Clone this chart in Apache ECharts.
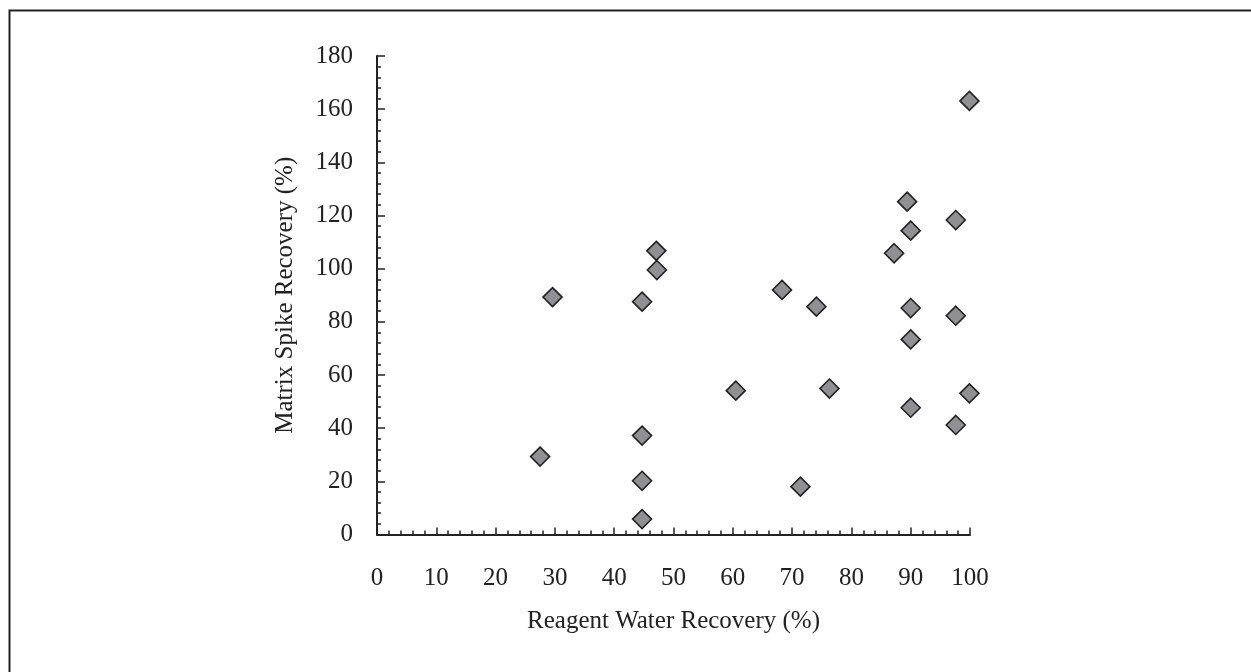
<!DOCTYPE html>
<html>
<head>
<meta charset="utf-8">
<script src="https://cdn.jsdelivr.net/npm/echarts@6/dist/echarts.min.js"></script>
<style>
html,body{margin:0;padding:0;background:#fff;}
#chart{width:1251px;height:672px;}
</style>
</head>
<body>
<div id="chart"></div>
<script>
var reagentWater = [27.5, 29.6, 44.7, 44.7, 44.7, 44.7, 47.1, 47.2, 60.5, 68.3, 71.4, 74.1, 76.3, 87.2, 89.4, 90.0, 90.0, 90.0, 90.0, 97.6, 97.6, 97.6, 99.9, 99.9];
var matrixSpike = [29.3, 89.3, 87.6, 37.2, 20.2, 5.8, 106.7, 99.5, 54.1, 92.0, 18.0, 85.7, 54.9, 105.8, 125.2, 114.3, 85.2, 73.4, 47.7, 118.3, 82.3, 41.2, 163.1, 53.1];
var xTitle = 'Reagent Water Recovery (%)';
var yTitle = 'Matrix Spike Recovery (%)';

var points = reagentWater.map(function (x, i) { return [x, matrixSpike[i]]; });
var font = 'Liberation Serif';
var chart = echarts.init(document.getElementById('chart'));
chart.setOption({
  animation: false,
  backgroundColor: '#fff',
  graphic: [{
    type: 'rect', left: 7, top: 8,
    shape: { width: 1300, height: 700 },
    style: { fill: 'none', stroke: '#222', lineWidth: 2 },
    silent: true
  }],
  grid: { left: 377, right: 281, top: 56, bottom: 137.5, containLabel: false },
  xAxis: {
    type: 'value', min: 0, max: 100, interval: 10,
    name: xTitle, nameLocation: 'middle', nameGap: 74,
    nameTextStyle: { fontFamily: font, fontSize: 25, color: '#222' },
    axisLine: { show: true, onZero: false, lineStyle: { color: '#222', width: 2 } },
    axisTick: { show: true, inside: true, length: 7, lineStyle: { color: '#222', width: 1.5 } },
    minorTick: { show: true, splitNumber: 5, length: 4, lineStyle: { color: '#222', width: 1.5 } },
    splitLine: { show: false },
    axisLabel: { fontFamily: font, fontSize: 25, color: '#222', margin: 31 }
  },
  yAxis: {
    type: 'value', min: 0, max: 180, interval: 20,
    name: yTitle, nameLocation: 'middle', nameGap: 79, nameRotate: 90,
    nameTextStyle: { fontFamily: font, fontSize: 25, color: '#222' },
    axisLine: { show: true, onZero: false, lineStyle: { color: '#222', width: 2 } },
    axisTick: { show: true, inside: true, length: 8, lineStyle: { color: '#222', width: 1.5 } },
    minorTick: { show: true, splitNumber: 5, length: 4, lineStyle: { color: '#222', width: 1.5 } },
    splitLine: { show: false },
    axisLabel: { fontFamily: font, fontSize: 25, color: '#222', margin: 24 }
  },
  series: [{
    type: 'scatter',
    data: points,
    symbol: 'diamond',
    symbolSize: [19, 19],
    itemStyle: { color: '#909093', borderColor: '#222', borderWidth: 1.6, opacity: 1 }
  }]
});
</script>
</body>
</html>
